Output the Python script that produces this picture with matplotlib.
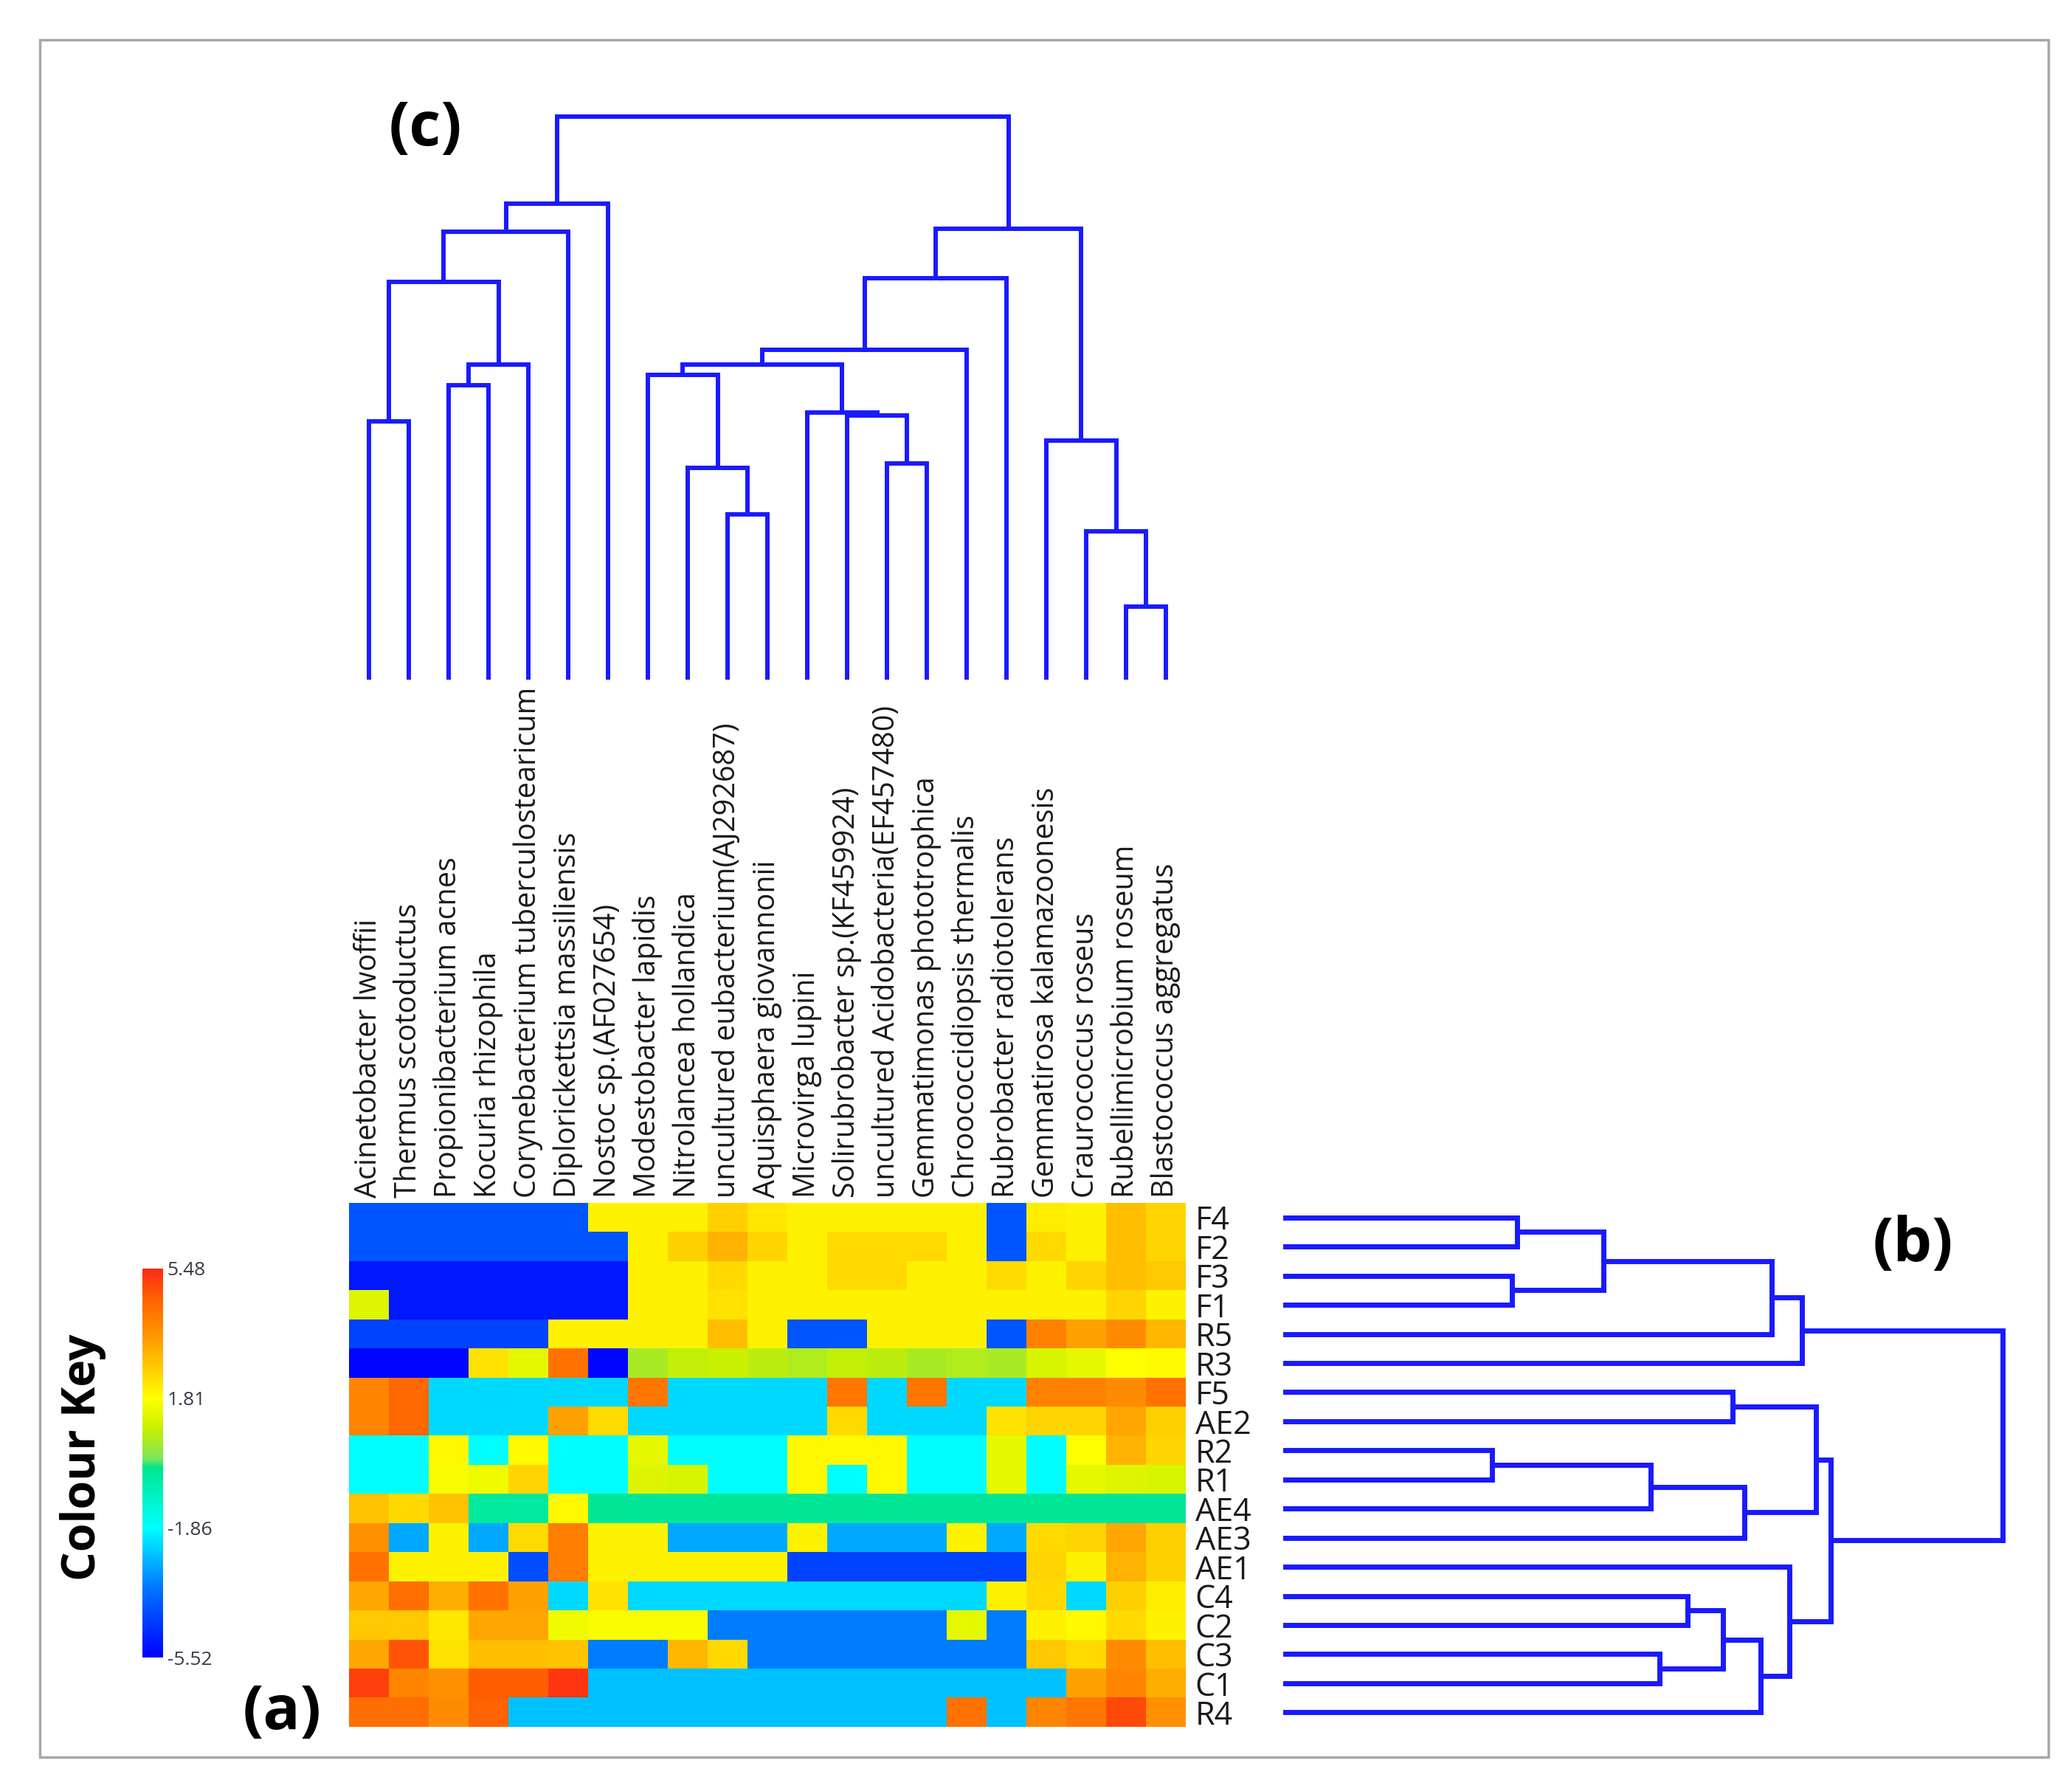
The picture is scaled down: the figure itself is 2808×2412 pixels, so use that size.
import numpy as np
import matplotlib
matplotlib.use('Agg')
import matplotlib.pyplot as plt
from matplotlib.colors import LinearSegmentedColormap
from matplotlib.patches import Rectangle

plt.rcParams['font.family'] = ['Open Sans', 'DejaVu Sans']

# --- dane ---
species = ['Acinetobacter lwoffii', 'Thermus scotoductus', 'Propionibacterium acnes',
           'Kocuria rhizophila', 'Corynebacterium tuberculostearicum',
           'Diplorickettsia massiliensis', 'Nostoc sp.(AF027654)', 'Modestobacter lapidis',
           'Nitrolancea hollandica', 'uncultured eubacterium(AJ292687)',
           'Aquisphaera giovannonii', 'Microvirga lupini', 'Solirubrobacter sp.(KF459924)',
           'uncultured Acidobacteria(EF457480)', 'Gemmatimonas phototrophica',
           'Chroococcidiopsis thermalis', 'Rubrobacter radiotolerans',
           'Gemmatirosa kalamazoonesis', 'Craurococcus roseus', 'Rubellimicrobium roseum',
           'Blastococcus aggregatus']

samples = ['F4', 'F2', 'F3', 'F1', 'R5', 'R3', 'F5', 'AE2', 'R2', 'R1',
           'AE4', 'AE3', 'AE1', 'C4', 'C2', 'C3', 'C1', 'R4']

heat = [
    [-4.1] * 6 + [2.0, 2.0, 2.0, 2.6, 2.2, 2.0, 2.0, 2.0, 2.0, 2.0, -4.1, 2.1, 2.0, 2.9, 2.5],
    [-4.1] * 7 + [2.0, 2.6, 3.1, 2.5, 2.0, 2.4, 2.4, 2.4, 2.0, -4.1, 2.4, 2.0, 2.9, 2.5],
    [-5.1] * 7 + [2.0, 2.0, 2.4, 2.0, 2.0, 2.4, 2.4, 2.0, 2.0, 2.4, 2.0, 2.5, 2.9, 2.7],
    [1.3] + [-5.1] * 6 + [2.0, 2.0, 2.3, 2.0, 2.0, 2.0, 2.0, 2.0, 2.0, 2.0, 2.0, 2.0, 2.5, 2.0],
    [-4.4] * 5 + [2.0, 2.0, 2.0, 2.0, 2.9, 2.0, -4.1, -4.1, 2.0, 2.0, 2.0, -4.1, 4.0, 3.4, 3.8, 3.0],
    [-5.4, -5.4, -5.4, 2.3, 1.4, 4.3, -5.4, 0.6, 0.9, 1.0, 0.8, 0.7, 0.9, 0.8, 0.6, 0.7, 0.6, 1.2, 1.4, 1.8, 1.9],
    [3.9, 4.5, -2.3, -2.3, -2.3, -2.3, -2.3, 4.2, -2.3, -2.3, -2.3, -2.3, 4.2, -2.3, 4.2, -2.3, -2.3, 4.0, 4.0, 3.8, 4.3],
    [3.9, 4.5, -2.3, -2.3, -2.3, 3.4, 2.4, -2.3, -2.3, -2.3, -2.3, -2.3, 2.4, -2.3, -2.3, -2.3, 2.3, 2.5, 2.5, 3.3, 2.6],
    [-1.86, -1.86, 1.9, -1.86, 1.9, -1.86, -1.86, 1.4, -1.86, -1.86, -1.86, 1.9, 1.9, 1.9, -1.86, -1.86, 1.4, -1.86, 1.8, 3.1, 2.5],
    [-1.86, -1.86, 1.7, 1.6, 2.5, -1.86, -1.86, 1.3, 1.2, -1.86, -1.86, 1.9, -1.86, 1.9, -1.86, -1.86, 1.4, -1.86, 1.4, 1.3, 1.2],
    [2.8, 2.4, 2.8, -0.4, -0.4, 1.9] + [-0.3] * 15,
    [3.7, -2.9, 2.0, -2.9, 2.4, 4.1, 2.0, 2.0, -2.9, -2.9, -2.9, 2.0, -2.9, -2.9, -2.9, 2.0, -2.9, 2.4, 2.5, 3.3, 2.6],
    [4.3, 2.0, 2.0, 2.0, -4.2, 4.1, 2.0, 2.0, 2.0, 2.0, 2.0, -4.4, -4.4, -4.4, -4.4, -4.4, -4.4, 2.5, 2.0, 3.1, 2.6],
    [3.3, 4.4, 3.2, 4.3, 3.4, -2.3, 2.3, -2.3, -2.3, -2.3, -2.3, -2.3, -2.3, -2.3, -2.3, -2.3, 2.0, 2.4, -2.3, 2.6, 2.1],
    [2.7, 2.7, 2.2, 3.3, 3.3, 1.6, 1.7, 1.7, 1.7, -3.5, -3.5, -3.5, -3.5, -3.5, -3.5, 1.4, -3.5, 2.0, 1.9, 2.4, 2.0],
    [3.3, 4.8, 2.3, 2.9, 2.9, 2.8, -3.5, -3.5, 3.0, 2.4, -3.5, -3.5, -3.5, -3.5, -3.5, -3.5, -3.5, 2.7, 2.4, 3.8, 2.9],
    [5.1, 3.9, 3.7, 4.7, 4.7, 5.3] + [-2.6] * 12 + [3.4, 3.9, 3.2],
    [4.4, 4.4, 3.8, 4.6] + [-2.6] * 11 + [4.3, -2.6, 3.9, 4.2, 5.0, 3.7],
]

key_ticks = [-5.52, -1.86, 1.81, 5.48]

# laczenia (lewy, prawy, wysokosc) - indeksy >= n to wczesniejsze klastry
col_links = [(0, 1, 635), (2, 3, 725), (22, 4, 775), (21, 23, 980), (24, 5, 1105),
             (25, 6, 1175), (9, 10, 405), (8, 27, 520), (7, 28, 750), (13, 14, 530),
             (12, 30, 650), (11, 31, 657), (29, 32, 775), (33, 15, 812), (34, 16, 990),
             (19, 20, 175), (18, 36, 362), (17, 37, 588), (35, 38, 1112), (26, 39, 1390)]

row_links = [(0, 1, 427), (2, 3, 417), (18, 19, 585), (20, 4, 895), (21, 5, 950),
             (6, 7, 823), (8, 9, 380), (24, 10, 672), (25, 11, 845), (23, 26, 977),
             (13, 14, 740), (15, 16, 688), (28, 29, 805), (30, 17, 875), (12, 31, 928),
             (27, 32, 1003), (22, 33, 1320)]


def dendro_segments(links, n):
    pos = {i: float(i) for i in range(n)}
    hgt = {i: 0.0 for i in range(n)}
    segs = []
    for k, (a, b, h) in enumerate(links):
        segs.append(([pos[a], pos[a], pos[b], pos[b]], [hgt[a], h, h, hgt[b]]))
        pos[n + k] = (pos[a] + pos[b]) / 2
        hgt[n + k] = h
    return segs


cmap = LinearSegmentedColormap.from_list('key', [
    (0.0, '#0000ff'), (0.17, '#0070ff'), (0.333, '#00ffff'), (0.49, '#00e68c'),
    (0.51, '#7de65a'), (0.59, '#c8f000'), (0.667, '#ffff00'), (0.75, '#ffc800'),
    (0.83, '#ff9600'), (0.92, '#ff6400'), (1.0, '#ff2a14')])

BLUE = '#1a1aff'
W, H = 2808, 2412
fig = plt.figure(figsize=(W / 100, H / 100), dpi=100)

# --- heatmapa (a) ---
ax_h = fig.add_axes([473 / W, 72 / H, 1134 / W, 710 / H])
im = ax_h.imshow(np.array(heat), cmap=cmap, vmin=-5.52, vmax=5.48,
                 aspect='auto', interpolation='nearest')
ax_h.set_xticks(range(len(species)))
ax_h.set_xticklabels(species, rotation=90, fontsize=28.5, color='#1a1a1a')
ax_h.set_yticks(range(len(samples)))
ax_h.set_yticklabels(samples, fontsize=31, color='#1a1a1a')
ax_h.tick_params(top=False, bottom=False, left=False, right=False,
                 labeltop=True, labelbottom=False, labelright=True, labelleft=False,
                 length=0)
ax_h.tick_params(axis='x', pad=5)
ax_h.tick_params(axis='y', pad=9)
for lbl in ax_h.get_yticklabels():
    lbl.set_horizontalalignment('left')
for s in ax_h.spines.values():
    s.set_visible(False)

# --- dendrogram kolumn (c) ---
ax_c = fig.add_axes([473 / W, 1494 / H, 1134 / W, 760 / H])
for xs, ys in dendro_segments(col_links, len(species)):
    ax_c.plot(xs, ys, color=BLUE, lw=4.3, clip_on=False, solid_joinstyle='miter')
ax_c.set_xlim(-0.5, len(species) - 0.5)
ax_c.set_ylim(0, 1390)
ax_c.axis('off')

# --- dendrogram wierszy (b) ---
ax_r = fig.add_axes([1742 / W, 72 / H, 972 / W, 710 / H])
for ps, hs in dendro_segments(row_links, len(samples)):
    ax_r.plot(hs, ps, color=BLUE, lw=5, clip_on=False, solid_joinstyle='miter')
ax_r.set_ylim(len(samples) - 0.5, -0.5)
ax_r.set_xlim(0, 1320)
ax_r.axis('off')

# --- skala kolorow ---
cax = fig.add_axes([193 / W, 166 / H, 28 / W, 527 / H])
cb = fig.colorbar(im, cax=cax, ticks=key_ticks)
cb.ax.set_yticklabels([f'{t:.2f}' for t in key_ticks], fontsize=19, color='#3c3848')
cb.ax.tick_params(length=0, pad=4)
cb.outline.set_visible(False)

fig.text(112 / W, 1 - 1975 / H, 'Colour Key', rotation=90, fontsize=45,
         fontweight='bold', ha='center', va='center')
fig.text(382 / W, 1 - 2322 / H, '(a)', fontsize=60, fontweight='bold', ha='center', va='center')
fig.text(2592 / W, 1 - 1687 / H, '(b)', fontsize=60, fontweight='bold', ha='center', va='center')
fig.text(576 / W, 1 - 175 / H, '(c)', fontsize=60, fontweight='bold', ha='center', va='center')

# ramka
fig.add_artist(Rectangle((54 / W, 31 / H), 2722 / W, 2327 / H, transform=fig.transFigure,
                         fill=False, edgecolor='#a8a8a8', lw=2.5))

fig.savefig('out.png', dpi=100)
